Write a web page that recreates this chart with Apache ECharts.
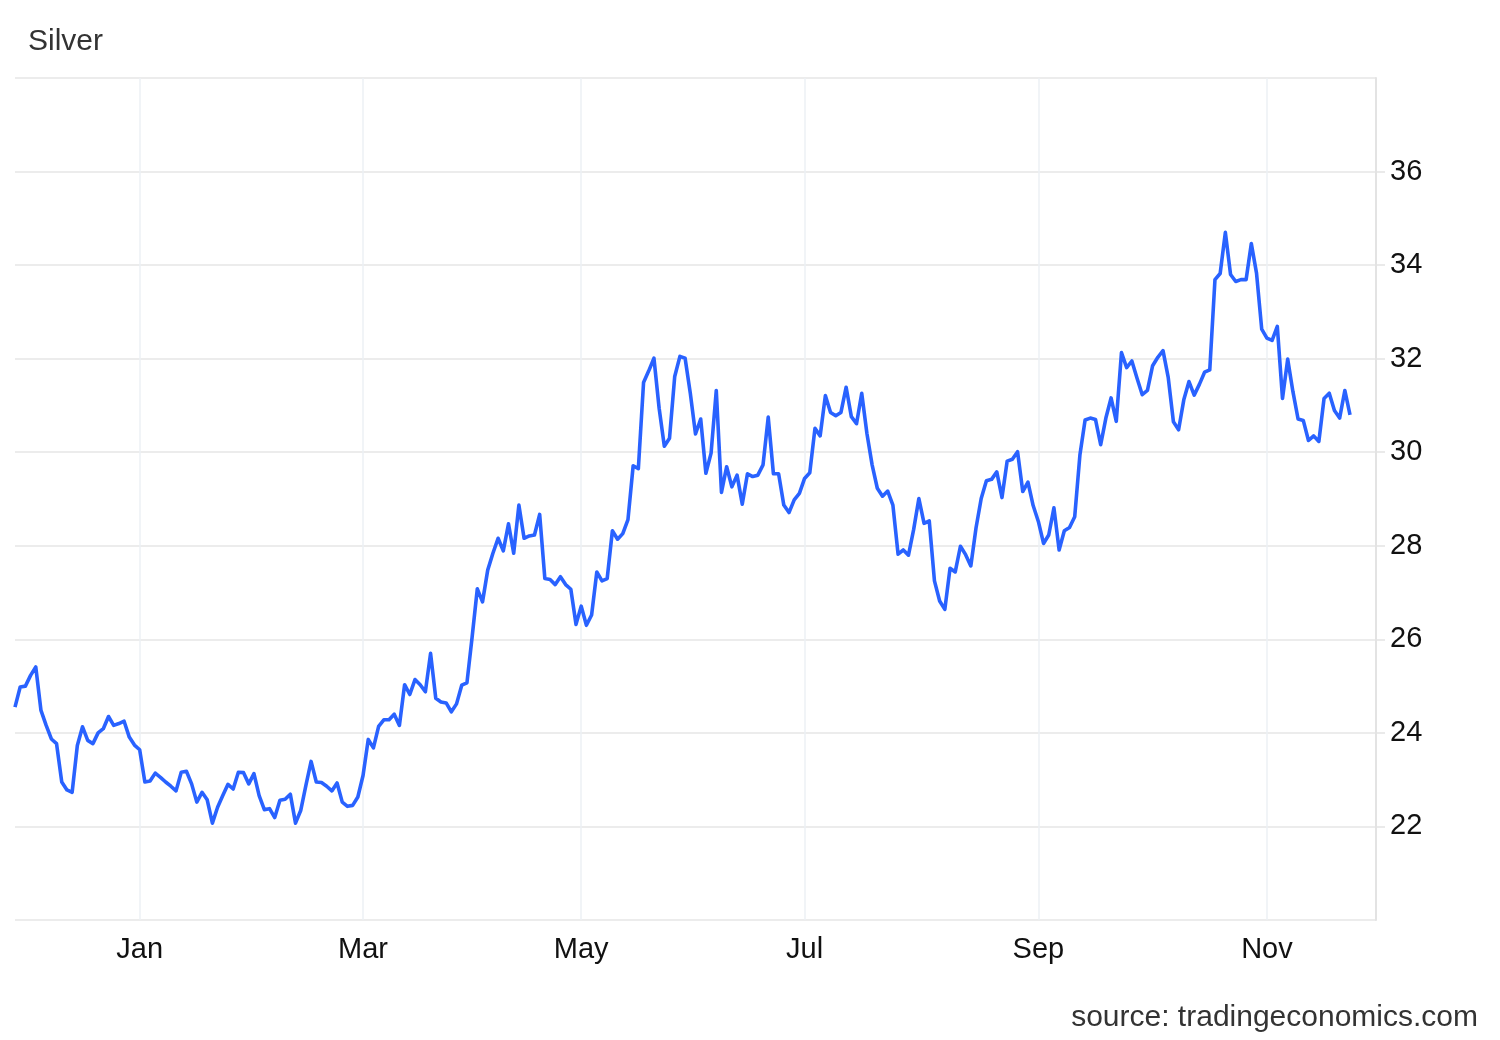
<!DOCTYPE html>
<html>
<head>
<meta charset="utf-8">
<script src="https://cdn.jsdelivr.net/npm/echarts@6/dist/echarts.min.js"></script>
<style>
  html, body { margin: 0; padding: 0; background: #ffffff; }
  #chart { width: 1500px; height: 1040px; }
</style>
</head>
<body>
<div id="chart"></div>
<script>
// Trading-day calendar (weekdays, minus market holidays)
const startDate = '2023-11-27';
const endDate = '2024-12-02';
const holidays = ['2023-12-25', '2024-01-01', '2024-03-29'];
const labelMonths = ['Jan', 'Mar', 'May', 'Jul', 'Sep', 'Nov'];
const monthNames = ['Jan','Feb','Mar','Apr','May','Jun','Jul','Aug','Sep','Oct','Nov','Dec'];

// Silver price (USD/oz), one value per trading day
const silverPrices = [
  24.55, 24.98, 25.00, 25.23, 25.41, 24.48, 24.16, 23.87, 23.77, 22.95,
  22.78, 22.73, 23.73, 24.13, 23.84, 23.77, 24.00, 24.09, 24.35, 24.16,
  24.20, 24.25, 23.91, 23.74, 23.64, 22.95, 22.97, 23.14, 23.05, 22.95,
  22.86, 22.76, 23.16, 23.18, 22.91, 22.52, 22.73, 22.57, 22.07, 22.41,
  22.66, 22.90, 22.80, 23.16, 23.15, 22.91, 23.13, 22.66, 22.36, 22.38,
  22.19, 22.56, 22.58, 22.69, 22.07, 22.34, 22.88, 23.39, 22.95, 22.94,
  22.86, 22.76, 22.93, 22.52, 22.43, 22.45, 22.63, 23.09, 23.86, 23.68,
  24.14, 24.28, 24.28, 24.40, 24.16, 25.03, 24.82, 25.14, 25.03, 24.88,
  25.70, 24.74, 24.66, 24.64, 24.45, 24.62, 25.02, 25.07, 26.05, 27.08,
  26.80, 27.48, 27.84, 28.16, 27.89, 28.47, 27.84, 28.87, 28.16, 28.21,
  28.23, 28.67, 27.30, 27.28, 27.17, 27.34, 27.17, 27.07, 26.32, 26.71,
  26.30, 26.52, 27.44, 27.25, 27.30, 28.32, 28.14, 28.26, 28.56, 29.71,
  29.65, 31.49, 31.74, 32.01, 30.94, 30.13, 30.30, 31.62, 32.05, 32.01,
  31.26, 30.39, 30.71, 29.55, 29.98, 31.32, 29.14, 29.69, 29.26, 29.51,
  28.89, 29.54, 29.48, 29.51, 29.73, 30.75, 29.54, 29.54, 28.87, 28.71,
  28.98, 29.12, 29.44, 29.56, 30.51, 30.35, 31.21, 30.85, 30.78, 30.85,
  31.39, 30.76, 30.61, 31.26, 30.40, 29.73, 29.23, 29.06, 29.17, 28.87,
  27.82, 27.91, 27.80, 28.35, 29.01, 28.48, 28.53, 27.25, 26.82, 26.64,
  27.52, 27.44, 27.99, 27.81, 27.57, 28.38, 29.01, 29.39, 29.42, 29.58,
  29.03, 29.81, 29.85, 30.01, 29.16, 29.36, 28.86, 28.52, 28.05, 28.23,
  28.81, 27.91, 28.32, 28.39, 28.62, 29.94, 30.69, 30.73, 30.70, 30.16,
  30.73, 31.16, 30.66, 32.13, 31.81, 31.95, 31.58, 31.23, 31.32, 31.85,
  32.03, 32.17, 31.60, 30.65, 30.48, 31.12, 31.51, 31.22, 31.45, 31.71,
  31.76, 33.69, 33.82, 34.70, 33.80, 33.65, 33.69, 33.69, 34.46, 33.83,
  32.63, 32.44, 32.39, 32.69, 31.15, 31.99, 31.30, 30.71, 30.68, 30.25,
  30.35, 30.23, 31.15, 31.26, 30.89, 30.73, 31.32, 30.80
];

const yTicks = [22, 24, 26, 28, 30, 32, 34, 36];

function buildTradingDays(start, end, skip) {
  const out = [];
  const d = new Date(start + 'T00:00:00Z');
  const e = new Date(end + 'T00:00:00Z');
  while (d <= e) {
    const wd = d.getUTCDay();
    const s = d.toISOString().slice(0, 10);
    if (wd !== 0 && wd !== 6 && skip.indexOf(s) < 0) out.push(s);
    d.setUTCDate(d.getUTCDate() + 1);
  }
  return out;
}
const categories = buildTradingDays(startDate, endDate, holidays);

function isMonthStartLabel(index) {
  if (index === 0) return false;
  const cur = categories[index], prev = categories[index - 1];
  if (!cur || !prev) return false;
  if (cur.slice(5, 7) === prev.slice(5, 7)) return false;
  const m = monthNames[parseInt(cur.slice(5, 7), 10) - 1];
  return labelMonths.indexOf(m) >= 0;
}

const FONT = "'Liberation Sans', Arial, sans-serif";
const chart = echarts.init(document.getElementById('chart'), null, { renderer: 'canvas' });
chart.setOption({
  animation: false,
  backgroundColor: '#ffffff',
  title: [
    { text: 'Silver', left: 23, top: 22,
      textStyle: { fontFamily: FONT, fontSize: 30, fontWeight: 'normal', color: '#333333' } },
    { text: 'source: tradingeconomics.com', right: 17, top: 998,
      textStyle: { fontFamily: FONT, fontSize: 30, fontWeight: 'normal', color: '#333333' } }
  ],
  grid: { left: 15, right: 124, top: 78, bottom: 120, containLabel: false },
  xAxis: {
    type: 'category',
    data: categories,
    boundaryGap: false,
    axisLine: { show: false },
    axisTick: { show: false },
    axisLabel: {
      interval: function (index) { return isMonthStartLabel(index); },
      formatter: function (value) { return monthNames[parseInt(value.slice(5, 7), 10) - 1]; },
      fontFamily: FONT, fontSize: 29, color: '#111111', margin: 15
    },
    splitLine: {
      show: true,
      interval: function (index) { return isMonthStartLabel(index); },
      lineStyle: { color: '#ecf0f5', width: 1.5 }
    }
  },
  yAxis: {
    type: 'value',
    position: 'right',
    min: 20, max: 38, interval: 2,
    axisLine: { show: true, lineStyle: { color: '#e3e3e3', width: 2 } },
    axisTick: { show: true, length: 9, lineStyle: { color: '#e3e3e3', width: 1.5 } },
    axisLabel: {
      showMinLabel: false, showMaxLabel: false,
      formatter: function (v) { return yTicks.indexOf(v) >= 0 ? String(v) : ''; },
      fontFamily: FONT, fontSize: 29, color: '#111111', margin: 14
    },
    splitLine: { show: true, lineStyle: { color: '#e6e6e6', width: 1.5 } }
  },
  series: [{
    type: 'line',
    data: silverPrices,
    showSymbol: false,
    symbol: 'none',
    lineStyle: { color: '#2962ff', width: 3.6, join: 'round' },
    itemStyle: { color: '#2962ff' },
    emphasis: { disabled: true }
  }]
});
</script>
</body>
</html>
